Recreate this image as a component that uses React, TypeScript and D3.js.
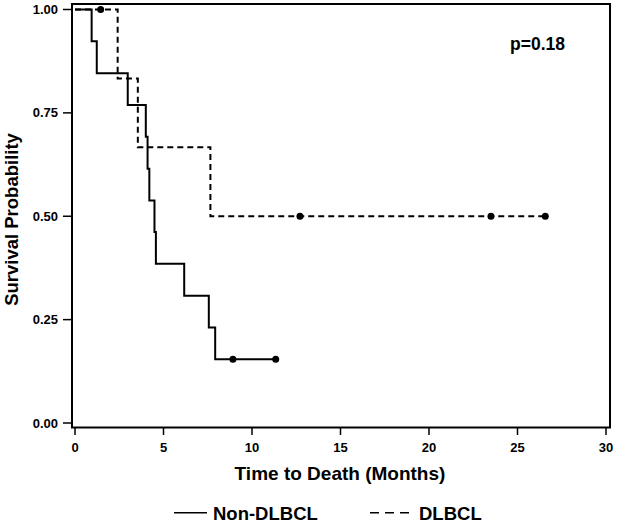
import React from "react";
import * as d3 from "d3";

const nonTimes = [0, 0.94, 1.23, 2.98, 4.0, 4.1, 4.2, 4.49, 4.57, 6.17, 7.56, 7.92, 8.92, 11.34];
const nonSurv = [1, 0.923, 0.846, 0.769, 0.692, 0.615, 0.538, 0.462, 0.385, 0.308, 0.231, 0.154, 0.154, 0.154];
const nonCensorTimes = [8.92, 11.34];
const nonCensorSurv = [0.154, 0.154];

const dlTimes = [0, 1.45, 2.41, 3.55, 7.65, 12.71, 23.5, 26.57];
const dlSurv = [1, 1, 0.833, 0.667, 0.5, 0.5, 0.5, 0.5];
const dlCensorTimes = [1.45, 12.71, 23.5, 26.57];
const dlCensorSurv = [1, 0.5, 0.5, 0.5];

const xTicks = [0, 5, 10, 15, 20, 25, 30];
const yTicks = [0, 0.25, 0.5, 0.75, 1];
const seriesNames = ["Non-DLBCL", "DLBCL"];
const pText = "p=0.18";
const xTitle = "Time to Death (Months)";
const yTitle = "Survival Probability";

const W = 618;
const H = 527;
const FONT = "'Liberation Sans', Arial, Helvetica, sans-serif";

export default function App() {
  const x = d3.scaleLinear().domain([0, 30]).range([75, 606]);
  const y = d3.scaleLinear().domain([0, 1]).range([423, 9.5]);
  const frame = { left: 72, top: 4, right: 610, bottom: 427.5 };

  const line = d3
    .line<[number, number]>()
    .x((d) => x(d[0]))
    .y((d) => y(d[1]))
    .curve(d3.curveStepAfter);

  const nonPts: [number, number][] = nonTimes.map((t, i) => [t, nonSurv[i]]);
  const dlPts: [number, number][] = dlTimes.map((t, i) => [t, dlSurv[i]]);

  return (
    <svg
      width={W}
      height={H}
      style={{ position: "absolute", left: 0, top: 0, background: "#fff" }}
      fontFamily={FONT}
      fontWeight="bold"
    >
      <rect x={0} y={0} width={W} height={H} fill="#fff" />
      {/* frame */}
      <rect
        x={frame.left}
        y={frame.top}
        width={frame.right - frame.left}
        height={frame.bottom - frame.top}
        fill="none"
        stroke="#000"
        strokeWidth={2}
      />
      {/* y ticks */}
      {yTicks.map((t) => (
        <g key={"y" + t}>
          <line x1={63} x2={frame.left} y1={y(t)} y2={y(t)} stroke="#000" strokeWidth={1.5} />
          <text x={58} y={y(t) + 4.6} textAnchor="end" fontSize={13}>
            {d3.format(".2f")(t)}
          </text>
        </g>
      ))}
      {/* x ticks */}
      {xTicks.map((t) => (
        <g key={"x" + t}>
          <line x1={x(t)} x2={x(t)} y1={frame.bottom} y2={435} stroke="#000" strokeWidth={1.5} />
          <text x={x(t)} y={451.5} textAnchor="middle" fontSize={13}>
            {t}
          </text>
        </g>
      ))}
      {/* curves */}
      <path d={line(nonPts) || ""} fill="none" stroke="#000" strokeWidth={2} />
      <path d={line(dlPts) || ""} fill="none" stroke="#000" strokeWidth={2} strokeDasharray="6,4" />
      {nonCensorTimes.map((t, i) => (
        <circle key={"nc" + i} cx={x(t)} cy={y(nonCensorSurv[i])} r={3.5} fill="#000" />
      ))}
      {dlCensorTimes.map((t, i) => (
        <circle key={"dc" + i} cx={x(t)} cy={y(dlCensorSurv[i])} r={3.5} fill="#000" />
      ))}
      {/* p value */}
      <text x={510} y={49.5} fontSize={17.5}>
        {pText}
      </text>
      {/* titles */}
      <text x={340} y={480} textAnchor="middle" fontSize={19}>
        {xTitle}
      </text>
      <text transform="translate(18,219.5) rotate(-90)" textAnchor="middle" fontSize={18.5}>
        {yTitle}
      </text>
      {/* legend */}
      <line x1={174} x2={207} y1={512.7} y2={512.7} stroke="#000" strokeWidth={1.5} />
      <text x={213} y={520} fontSize={18.5}>
        {seriesNames[0]}
      </text>
      <line x1={370} x2={409} y1={512.7} y2={512.7} stroke="#000" strokeWidth={1.5} strokeDasharray="9,6" />
      <text x={419} y={520} fontSize={18.5}>
        {seriesNames[1]}
      </text>
    </svg>
  );
}
